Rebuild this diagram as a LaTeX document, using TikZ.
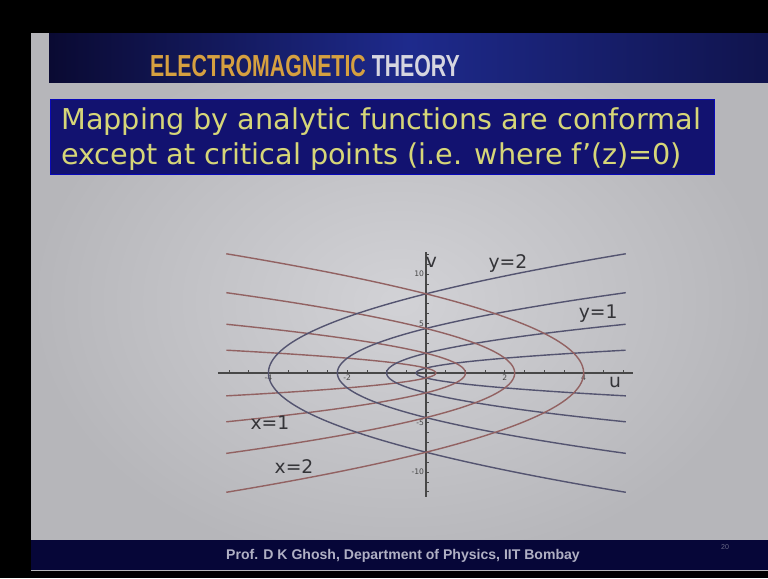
\documentclass[tikz,border=0pt]{standalone}
\usepackage{fontspec}
\setmainfont{DejaVu Sans}
\newfontfamily\titlefont[FakeStretch=0.7]{Liberation Sans}
\newfontfamily\footfont{Liberation Sans}
\usepackage{tikz}
\usetikzlibrary{positioning,calc}

\definecolor{slidelight}{RGB}{210,210,214}
\definecolor{slidedark}{RGB}{182,182,186}
\definecolor{headdark}{RGB}{10,10,50}
\definecolor{headblue}{RGB}{30,42,140}
\definecolor{boxnavy}{RGB}{18,18,112}
\definecolor{boxtext}{RGB}{214,214,120}
\definecolor{gold}{RGB}{214,160,64}
\definecolor{titlegray}{RGB}{214,214,224}
\definecolor{footnavy}{RGB}{6,6,56}
\definecolor{foottext}{RGB}{176,176,196}
\definecolor{curveblue}{RGB}{84,84,112}
\definecolor{curvered}{RGB}{146,98,98}
\definecolor{axisgray}{RGB}{72,72,72}
\definecolor{labelgray}{RGB}{52,52,56}

\begin{document}
\begin{tikzpicture}[
  x=0.03cm, y=-0.03cm,
  claimbox/.style={draw=blue!50!boxnavy, line width=0.6pt, fill=boxnavy,
              minimum width=19.92cm, minimum height=2.25cm},
  claimline/.style={anchor=base west, inner sep=0pt, text=boxtext,
              font=\fontsize{24.5}{29}\selectfont},
  ybranch/.style={draw=curveblue, line width=1.2pt},
  xbranch/.style={draw=curvered, line width=1.2pt},
  axisline/.style={draw=axisgray, line width=0.9pt},
  ticklabel/.style={font=\fontsize{6.5}{7}\selectfont, text=axisgray, inner sep=1.5pt},
  curvelabel/.style={font=\fontsize{16}{18}\selectfont, text=labelgray, inner sep=0pt},
]
\useasboundingbox (0,0) rectangle (768,578);

% ── slide background ──
\fill[black] (0,0) rectangle (768,578);
\shade[inner color=slidelight, outer color=slidedark] (31,33) rectangle (768,570);

% ── header band ──
\shade[left color=headdark, right color=headdark!70!headblue, middle color=headblue]
  (49,33) rectangle (768,82);
\node[anchor=base west, inner sep=0pt, font=\titlefont\bfseries\fontsize{26}{28}\selectfont]
  (title) at (150,76) {\textcolor{gold}{ELECTROMAGNETIC} \textcolor{titlegray}{THEORY}};

% ── statement box ──
\node[claimbox] (claim) at (382,136.5) {};
\node[claimline] (claimone) at (61,129) {Mapping by analytic functions are conformal};
\node[claimline] (claimtwo) at (61,164)
  {except at critical points (i.e. where f’(z)=0)};

% ── footer ──
\fill[footnavy] (31,540) rectangle (768,570);
\node[font=\footfont\bfseries\fontsize{12}{14}\selectfont, text=foottext] (foot) at (403,556)
  {Prof. D K Ghosh, Department of Physics, IIT Bombay};
\node[font=\footfont\fontsize{6}{7}\selectfont, text=footnavy!60!white] (page) at (725,547) {20};

% ── w = z^2 : images of x=c and y=c ──
\begin{scope}[shift={(12.78cm,-11.19cm)}, x=1.182cm, y=0.297cm]
  \draw[axisline] (-5.28,0) -- (5.25,0);
  \draw[axisline] (0,-12.5) -- (0,12.2);
  \foreach \t in {-5,-4.5,...,5}
    \draw[axisline, line width=0.6pt] (\t,0) -- (\t,0.35);
  \foreach \t in {-12,...,12}
    \draw[axisline, line width=0.6pt] (0,\t) -- (0.07,\t);
  \foreach \t in {-4,-2,2,4}
    \node[ticklabel, below] at (\t,0) {\t};
  \foreach \t in {-10,-5,5,10}
    \node[ticklabel, left] at (0,\t) {\t};

  \foreach \c in {0.5,1,1.5,2} {
    \pgfmathsetmacro{\vmax}{2*\c*sqrt(5.07+\c*\c)}
    \draw[ybranch] plot[domain=-\vmax:\vmax, samples=90, smooth, variable=\t]
      ({\t*\t/(4*\c*\c)-\c*\c}, \t);
    \draw[xbranch] plot[domain=-\vmax:\vmax, samples=90, smooth, variable=\t]
      ({\c*\c-\t*\t/(4*\c*\c)}, \t);
  }

  \node[curvelabel] (ulab) at (4.8,-0.9) {u};
  \node[curvelabel] (vlab) at (0.14,11.2) {v};
  \node[curvelabel] (ytwo) at (2.08,11.1) {y=2};
  \node[curvelabel] (yone) at (4.37,5.96) {y=1};
  \node[curvelabel] (xone) at (-3.96,-5.05) {x=1};
  \node[curvelabel] (xtwo) at (-3.35,-9.4) {x=2};
\end{scope}

\end{tikzpicture}
\end{document}
